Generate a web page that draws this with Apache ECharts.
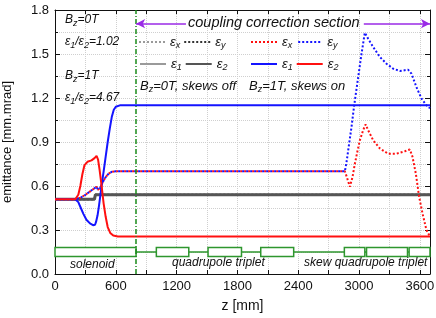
<!DOCTYPE html>
<html><head><meta charset="utf-8">
<script src="https://cdn.jsdelivr.net/npm/echarts@6/dist/echarts.min.js"></script>
<style>html,body{margin:0;padding:0;background:#fff}#c{width:436px;height:318px}</style>
</head><body><div id="c"></div>
<script>
const FONT = '"Liberation Sans", Arial, Helvetica, sans-serif';

// tick labels
const xTickLabels = [0, 600, 1200, 1800, 2400, 3000, 3600];
const yTickLabels = ['0.0', '0.3', '0.6', '0.9', '1.2', '1.5', '1.8'];

// Bz = 0T, skews off (all four emittances coincide)
const zOff = [0, 390, 398, 3700];
const epsOff = [0.51, 0.51, 0.54, 0.54];

// Bz = 1T, skews on : eigen-emittance eps1 (blue solid)
const zE1 = [0, 200, 230, 255, 280, 310, 345, 375, 395, 405, 420, 435, 450, 465, 480, 500, 520, 540, 560, 580, 600, 640, 3700];
const e1  = [0.51, 0.51, 0.49, 0.45, 0.41, 0.37, 0.345, 0.333, 0.336, 0.355, 0.40, 0.47, 0.55, 0.63, 0.70, 0.80, 0.90, 0.99, 1.07, 1.12, 1.14, 1.15, 1.15];

// eps2 (red solid)
const zE2 = [0, 200, 230, 250, 270, 290, 320, 360, 390, 410, 425, 440, 460, 480, 500, 520, 545, 575, 620, 3700];
const e2  = [0.51, 0.51, 0.54, 0.60, 0.68, 0.74, 0.765, 0.775, 0.79, 0.805, 0.78, 0.71, 0.60, 0.48, 0.39, 0.32, 0.28, 0.262, 0.256, 0.255];

// projected emittances eps_x / eps_y: common part up to the skew triplet
const zXY = [0, 200, 250, 300, 350, 390, 410, 425, 445, 470, 500, 530, 560, 600, 2860];
const eXY = [0.51, 0.51, 0.52, 0.54, 0.565, 0.585, 0.595, 0.575, 0.585, 0.625, 0.66, 0.685, 0.697, 0.70, 0.70];

// eps_x tail (red dotted)
const zExTail = [2880, 2909, 2935, 2959, 2985, 3008, 3040, 3065, 3090, 3139, 3205, 3287, 3369, 3452, 3501, 3527, 3560, 3593, 3626, 3665, 3700];
const exTail  = [0.66, 0.595, 0.66, 0.753, 0.84, 0.912, 0.98, 1.02, 0.98, 0.912, 0.856, 0.82, 0.82, 0.837, 0.849, 0.80, 0.685, 0.526, 0.413, 0.30, 0.255];

// eps_y tail (blue dotted)
const zEyTail = [2876, 2893, 2925, 2952, 2991, 3024, 3057, 3090, 3139, 3205, 3271, 3336, 3402, 3484, 3517, 3566, 3616, 3665, 3700];
const eyTail  = [0.76, 0.844, 1.00, 1.15, 1.34, 1.50, 1.645, 1.604, 1.548, 1.48, 1.434, 1.40, 1.384, 1.393, 1.366, 1.275, 1.196, 1.15, 1.13];

// beam-line elements (start, end in mm)
const elemStart = [0, 1000, 1510, 2030, 2855, 3074, 3494];
const elemEnd   = [800, 1320, 1840, 2355, 3057, 3478, 3700];

const pair = (xs, ys) => xs.map((x, i) => [x, ys[i]]);

const GREEN = '#2e962e', RED = '#ff1010', BLUE = '#1414ff', PURPLE = '#9a2ae6';
const INK = '#111';

function lineSeries(name, data, color, width, type, extra) {
  return Object.assign({
    type: 'line', name, data, symbol: 'none', showSymbol: false,
    lineStyle: { color, width, type }, itemStyle: { color },
    animation: false, silent: true, clip: true
  }, extra || {});
}

const labelMap = {
  x0: 'ε{s|x}', y0: 'ε{s|y}', x1: 'ε{s|x}', y1: 'ε{s|y}',
  a0: 'ε{s|1}', b0: 'ε{s|2}', a1: 'ε{s|1}', b1: 'ε{s|2}'
};
const subRich = { s: { fontSize: 9, fontStyle: 'italic', fontFamily: FONT, lineHeight: 8, verticalAlign: 'bottom', color: INK } };
const legendCommon = {
  orient: 'horizontal', itemWidth: 26, itemHeight: 10, itemGap: 3, padding: 0,
  selectedMode: false, formatter: n => labelMap[n],
  itemStyle: { opacity: 0, borderWidth: 0 },
  textStyle: { fontFamily: FONT, fontSize: 13, fontStyle: 'italic', color: INK, lineHeight: 16, rich: subRich }
};

const exData = pair(zXY, eXY).concat(pair(zExTail, exTail));
const eyData = pair(zXY, eXY).concat(pair(zEyTail, eyTail));
const elems = elemStart.map((s, i) => [s, elemEnd[i]]);

const series = [
  lineSeries('x0', pair(zOff, epsOff), '#9a9a9a', 2, [2, 2]),
  lineSeries('y0', pair(zOff, epsOff), '#333', 2, [2, 2]),
  lineSeries('a0', pair(zOff, epsOff), '#9a9a9a', 2, 'solid'),
  lineSeries('b0', pair(zOff, epsOff), '#555', 3, 'solid'),
  lineSeries('x1', exData, RED, 2, [2, 2]),
  lineSeries('y1', eyData, BLUE, 2, [2, 2], { lineStyle: { color: BLUE, width: 2, type: [2, 2], dashOffset: 2 } }),
  lineSeries('a1', pair(zE1, e1), BLUE, 2, 'solid'),
  lineSeries('b1', pair(zE2, e2), RED, 2, 'solid'),
  lineSeries('beamline', [[0, 0.15], [3700, 0.15]], GREEN, 1.5, 'solid', {
    z: 1,
    markLine: {
      silent: true, animation: false, label: { show: false }, symbol: ['none', 'none'],
      data: [
        { xAxis: 800, lineStyle: { color: '#1a8a1a', width: 1.5, type: [5, 2, 1, 2] } },
        [{ coord: [800, 1.707], symbol: 'arrow', symbolSize: [7, 9], lineStyle: { color: PURPLE, width: 1.5, type: 'solid' } },
         { coord: [1292, 1.707], symbol: 'none' }],
        [{ coord: [3047, 1.707], symbol: 'none', lineStyle: { color: PURPLE, width: 1.5, type: 'solid' } },
         { coord: [3700, 1.707], symbol: 'arrow', symbolSize: [7, 9] }]
      ]
    }
  }),
  {
    type: 'custom', name: 'elements', data: elems, encode: { x: [0, 1] }, z: 3, silent: true, animation: false,
    renderItem: (params, api) => {
      const p1 = api.coord([api.value(0), 0.18]);
      const p2 = api.coord([api.value(1), 0.12]);
      return { type: 'rect', shape: { x: p1[0], y: p1[1], width: p2[0] - p1[0], height: p2[1] - p1[1] },
               style: { fill: '#fff', stroke: GREEN, lineWidth: 1.5 } };
    }
  }
];

const axisLineStyle = { color: INK, width: 1 };
function txt(x, y, text, size, extra) {
  return Object.assign({
    type: 'text', x, y, silent: true, z: 100,
    style: { text, fill: INK, font: 'italic ' + size + 'px ' + FONT, fontSize: size, fontStyle: 'italic', fontFamily: FONT,
             align: 'left', verticalAlign: 'middle', lineHeight: 16, rich: subRich }
  }, extra || {});
}

const option = {
  animation: false,
  backgroundColor: '#fff',
  grid: { left: 55, right: 6, top: 10, bottom: 44, outerBoundsMode: 'none', containLabel: false },
  xAxis: [{
    type: 'value', min: 0, max: 3700, interval: 300, position: 'bottom',
    name: 'z [mm]', nameLocation: 'middle', nameGap: 25,
    nameTextStyle: { fontFamily: FONT, fontSize: 14, color: INK },
    axisLine: { show: true, onZero: false, lineStyle: axisLineStyle },
    axisTick: { show: true, inside: true, length: 4, lineStyle: axisLineStyle },
    axisLabel: { formatter: v => (xTickLabels.indexOf(v) >= 0 ? String(v) : ''), fontFamily: FONT, fontSize: 13, color: INK, margin: 6, showMaxLabel: false },
    splitLine: { show: true, lineStyle: { color: '#cfcfcf', type: 'dotted', width: 1 } }
  }, {
    type: 'value', min: 0, max: 3700, interval: 300, position: 'top',
    axisLine: { show: true, onZero: false, lineStyle: axisLineStyle },
    axisTick: { show: true, inside: true, length: 4, lineStyle: axisLineStyle },
    axisLabel: { show: false }, splitLine: { show: false }
  }],
  yAxis: [{
    type: 'value', min: 0, max: 1.8, interval: 0.3, position: 'left',
    name: 'emittance [mm.mrad]', nameLocation: 'middle', nameGap: 41,
    nameTextStyle: { fontFamily: FONT, fontSize: 13, color: INK },
    axisLine: { show: true, onZero: false, lineStyle: axisLineStyle },
    axisTick: { show: true, inside: true, length: 5, lineStyle: axisLineStyle },
    minorTick: { show: true, splitNumber: 2, length: 3, lineStyle: axisLineStyle },
    axisLabel: { formatter: v => yTickLabels[Math.round(v / 0.3)], fontFamily: FONT, fontSize: 13, color: INK, margin: 6 },
    splitLine: { show: true, lineStyle: { color: '#cfcfcf', type: 'dotted', width: 1 } },
    minorSplitLine: { show: true, lineStyle: { color: '#cfcfcf', type: 'dotted', width: 1 } }
  }, {
    type: 'value', min: 0, max: 1.8, interval: 0.3, position: 'right',
    axisLine: { show: true, onZero: false, lineStyle: axisLineStyle },
    axisTick: { show: true, inside: true, length: 5, lineStyle: axisLineStyle },
    minorTick: { show: true, splitNumber: 2, length: 3, lineStyle: axisLineStyle },
    axisLabel: { show: false }, splitLine: { show: false }
  }],
  legend: [
    Object.assign({ data: ['x0', 'y0'], left: 138, top: 34 }, legendCommon),
    Object.assign({ data: ['x1', 'y1'], left: 250, top: 34, itemGap: 2 }, legendCommon),
    Object.assign({ data: ['a0', 'b0'], left: 139, top: 56 }, legendCommon),
    Object.assign({ data: ['a1', 'b1'], left: 250, top: 56, itemGap: 2 }, legendCommon)
  ],
  graphic: [
    txt(65, 20, 'B{s|z}=0T', 12),
    txt(65, 42, 'ε{s|1}/ε{s|2}=1.02', 12),
    txt(65, 76, 'B{s|z}=1T', 12),
    txt(65, 98, 'ε{s|1}/ε{s|2}=4.67', 12),
    txt(140, 86, 'B{s|z}=0T, skews off', 13),
    txt(249, 86, 'B{s|z}=1T, skews on', 13),
    txt(188, 23, 'coupling correction section', 14.5),
    txt(70, 265, 'solenoid', 12),
    txt(172, 263, 'quadrupole triplet', 12),
    txt(304, 263, 'skew quadrupole triplet', 12)
  ],
  series
};

const chart = echarts.init(document.getElementById('c'), null, { renderer: 'canvas', devicePixelRatio: 1 });
chart.setOption(option);
</script>
</body></html>
